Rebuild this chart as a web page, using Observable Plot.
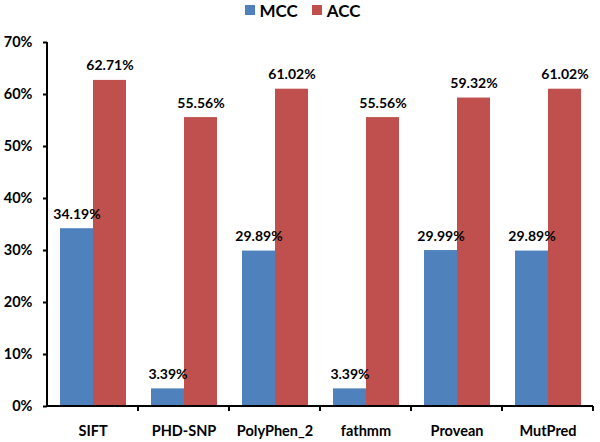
<!DOCTYPE html>
<html>
<head>
<meta charset="utf-8">
<script src="https://cdn.jsdelivr.net/npm/d3@7"></script>
<script src="https://cdn.jsdelivr.net/npm/@observablehq/plot@0.6"></script>
<style>
  body { margin: 0; background: #fff; font-family: Lato, "DejaVu Sans", sans-serif; }
  #legend { height: 20px; display: flex; justify-content: center; align-items: center; font-weight: bold; font-size: 17px; color: #000; padding-left: 5px; }
  #legend .item { display: flex; align-items: center; margin: 0 7px; }
  #legend .sw { width: 10px; height: 10px; margin-right: 5px; }
</style>
</head>
<body>
<div id="legend"></div>
<div id="chart"></div>
<script>
const categories = ["SIFT", "PHD-SNP", "PolyPhen_2", "fathmm", "Provean", "MutPred"];
const series = ["MCC", "ACC"];
const mccValues = [34.19, 3.39, 29.89, 3.39, 29.99, 29.89];
const accValues = [62.71, 55.56, 61.02, 55.56, 59.32, 61.02];
const yTicks = [0, 10, 20, 30, 40, 50, 60, 70];
const colors = ["#4F81BD", "#C0504D"];

const data = categories.flatMap((c, i) => [
  {category: c, metric: "MCC", value: mccValues[i]},
  {category: c, metric: "ACC", value: accValues[i]}
]);

// Legend
const legend = d3.select("#legend");
series.forEach((s, i) => {
  const item = legend.append("div").attr("class", "item");
  item.append("div").attr("class", "sw").style("background", colors[i]);
  item.append("span").text(s);
});

const chart = Plot.plot({
  width: 600,
  height: 422,
  marginTop: 22,
  marginBottom: 36,
  marginLeft: 44,
  marginRight: 5,
  style: {fontFamily: "Lato, sans-serif", fontWeight: "bold", fontSize: "14px", color: "#000", background: "#fff"},
  fx: {domain: categories, paddingInner: 0, paddingOuter: 0, label: null, axis: null},
  x: {domain: series, paddingInner: 0, paddingOuter: 0.36, axis: null},
  y: {domain: [0, 70], label: null},
  color: {domain: series, range: colors},
  marks: [
    Plot.barY(data, {fx: "category", x: "metric", y: "value", fill: "metric"}),
    Plot.text(data, {fx: "category", x: "metric", y: "value", text: d => d.value.toFixed(2) + "%", lineAnchor: "bottom", dy: -10, fontSize: 14, fontWeight: "bold", fill: "#000"}),
    Plot.axisFx({anchor: "bottom", tickSize: 0, tickPadding: 19, fontSize: 14.5, label: null}),
    Plot.axisY({ticks: yTicks, tickFormat: d => d + "%", tickSize: 4, tickPadding: 11, strokeWidth: 2, fontSize: 14.5, label: null})
  ]
});
document.getElementById("chart").appendChild(chart);

// Axis lines and category boundary ticks drawn from the plot's own scales
const fx = chart.scale("fx");
const y = chart.scale("y");
const y0 = y.apply(0), yTop = y.apply(70);
const left = fx.apply(categories[0]);
const right = fx.apply(categories[categories.length - 1]) + fx.bandwidth;
const svg = d3.select(chart.tagName.toLowerCase() === "svg" ? chart : chart.querySelector("svg"));
const g = svg.append("g").attr("stroke", "#000").attr("stroke-width", 2);
g.append("line").attr("x1", left).attr("x2", left).attr("y1", y0 + 1).attr("y2", yTop);
g.append("line").attr("x1", left).attr("x2", right).attr("y1", y0).attr("y2", y0);
categories.forEach(c => {
  const xb = fx.apply(c) + fx.bandwidth;
  g.append("line").attr("x1", xb).attr("x2", xb).attr("y1", y0).attr("y2", y0 + 5);
});
</script>
</body>
</html>
